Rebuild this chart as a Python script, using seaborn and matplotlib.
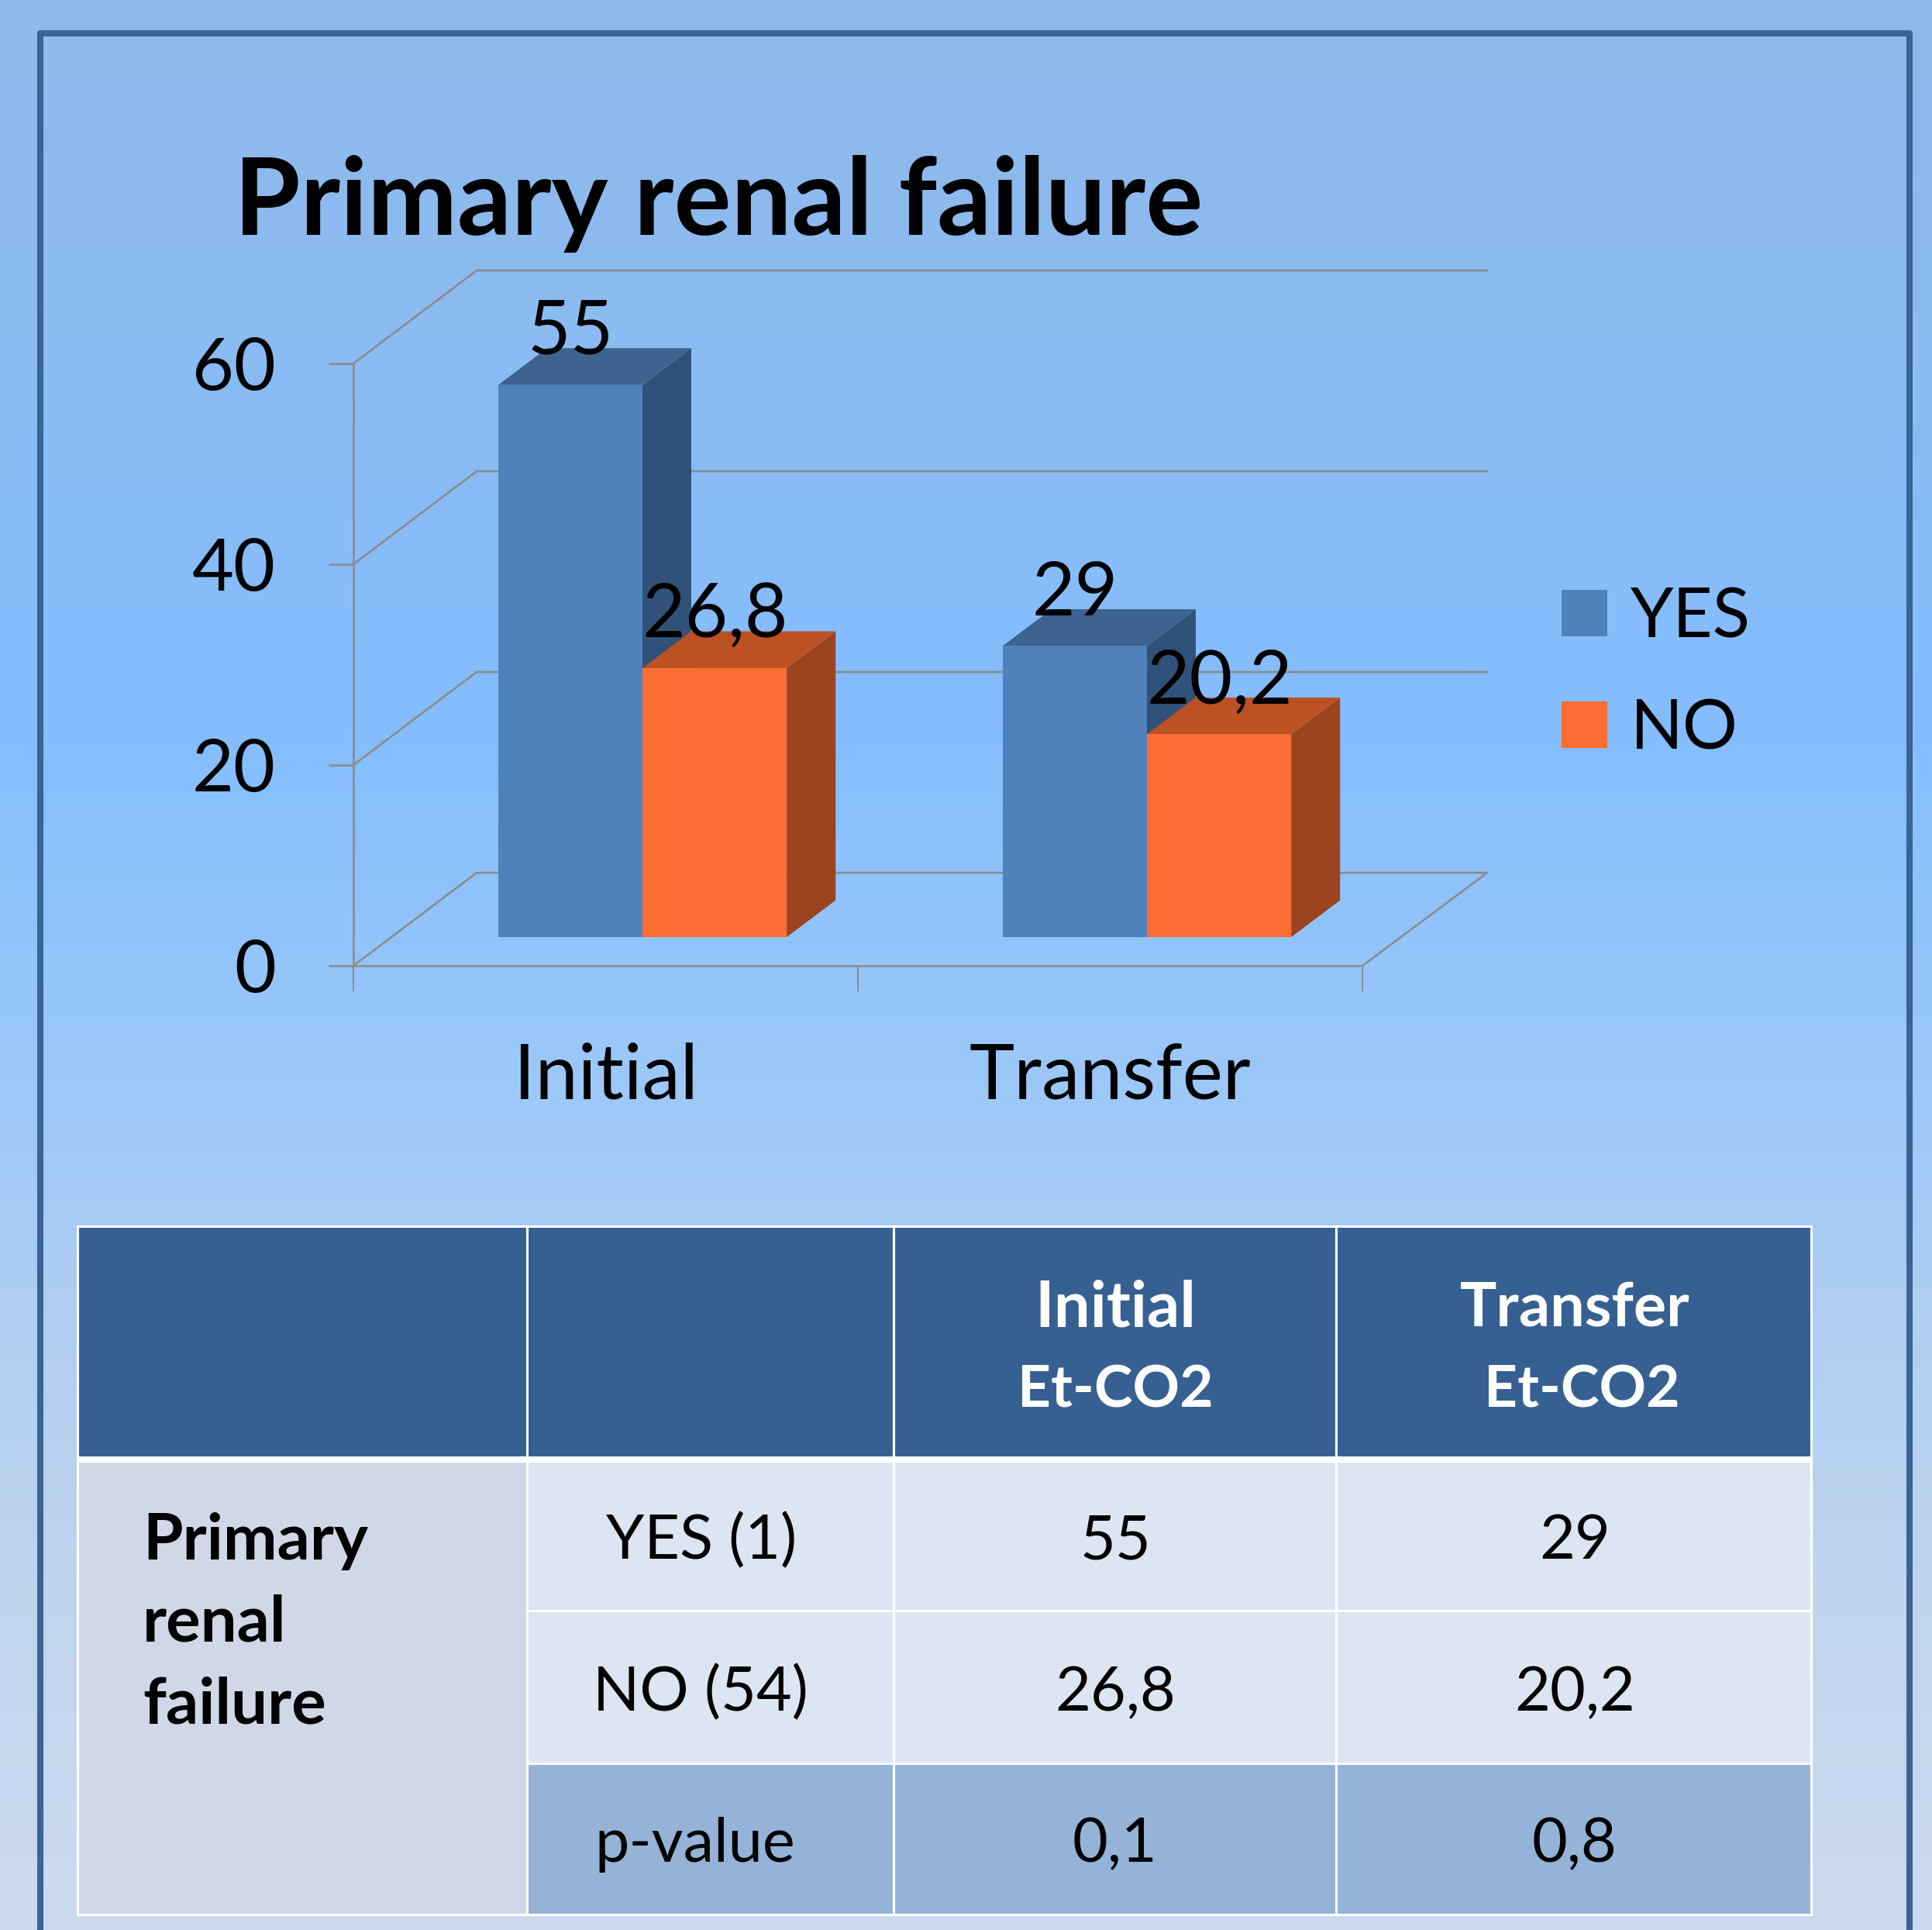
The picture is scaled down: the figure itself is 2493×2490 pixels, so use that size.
import matplotlib
matplotlib.use("Agg")
import matplotlib.pyplot as plt
import numpy as np
import pandas as pd
import seaborn as sns
from matplotlib.colors import LinearSegmentedColormap
from matplotlib.patches import Polygon, Rectangle
from matplotlib.transforms import Affine2D

# ---------- data ----------
categories = ["Initial", "Transfer"]
series_names = ["YES", "NO"]
yes_values = [55, 29]
no_values = [26.8, 20.2]
yes_labels = ["55", "29"]
no_labels = ["26,8", "20,2"]
y_ticks = [0, 20, 40, 60]
title_text = "Primary renal failure"
row_title = ["Primary", "renal", "failure"]
head_initial = ["Initial", "Et-CO2"]
head_transfer = ["Transfer", "Et-CO2"]
row_names = ["YES (1)", "NO (54)", "p-value"]
col_initial = ["55", "26,8", "0,1"]
col_transfer = ["29", "20,2", "0,8"]

# ---------- style ----------
W, H = 2493, 2490
DPI = 100
sns.set_style("white")
plt.rcParams["font.family"] = ["Lato", "DejaVu Sans"]
BLUE, BLUE_SIDE, BLUE_TOP = "#4F81BD", "#30527A", "#3E638F"
ORANGE, ORANGE_SIDE, ORANGE_TOP = "#FB6E33", "#9C431F", "#BC5124"
GRID = "#8C8C8C"
FRAME = "#3A6495"

fig = plt.figure(figsize=(W / DPI, H / DPI), dpi=DPI)

# ---------- background layer, addressed in pixels ----------
bg = fig.add_axes([0, 0, 1, 1], zorder=0)
bg.set_xlim(0, W)
bg.set_ylim(H, 0)
bg.axis("off")
stops = [(0.0, "#90B9EA"), (0.16, "#8BBBF1"), (0.38, "#84BDFF"), (0.52, "#96C6FA"),
         (0.68, "#AFCEF2"), (0.84, "#C2D5EE"), (1.0, "#CCDAF0")]
cmap = LinearSegmentedColormap.from_list("page", stops)
bg.imshow(np.linspace(0, 1, 512)[:, None], cmap=cmap, aspect="auto", extent=(0, W, H, 0), zorder=0)
bg.plot([52, 52, 2464, 2464], [H, 43, 43, H], color=FRAME, lw=5.8, solid_joinstyle="round", zorder=1)

# table
xs = [100, 680, 1153, 1723.5, 2337]
ys = [1582, 1883, 2078, 2274.5, 2469.5]
HEAD, FIRST, CELL, PVAL = "#366092", "#D0D8E8", "#DCE6F2", "#95B3D7"


def cell(x0, x1, y0, y1, color):
    bg.add_patch(Rectangle((x0, y0), x1 - x0, y1 - y0, facecolor=color, edgecolor="white", lw=2.2, zorder=2))


for i in range(4):
    cell(xs[i], xs[i + 1], ys[0], ys[1], HEAD)
bg.plot([xs[0], xs[4]], [ys[1], ys[1]], color="white", lw=5.8, solid_capstyle="butt", zorder=3)
cell(xs[0], xs[1], ys[1], ys[4], FIRST)
for r in range(3):
    color = PVAL if r == 2 else CELL
    for c in range(1, 4):
        cell(xs[c], xs[c + 1], ys[r + 1], ys[r + 2], color)

TS = 57
TB = 60
for line, base in zip(row_title, [2012, 2117, 2223]):
    bg.text(184, base, line, fontsize=TB, fontweight="bold", color="black", ha="left", va="baseline", zorder=4)
for lines, cx, cx2, fs in [(head_initial, 1439, 1439, TB), (head_transfer, 2032, 2041, TB - 3)]:
    bg.text(cx, 1711, lines[0], fontsize=fs, fontweight="bold", color="white", ha="center", va="baseline", zorder=4)
    bg.text(cx2, 1816, lines[1], fontsize=TB - 6, fontweight="bold", color="white", ha="center", va="baseline", zorder=4)
row_bases = [2011, 2207, 2402]
for name, cx, base in zip(row_names, [905, 904, 897], row_bases):
    bg.text(cx, base, name, fontsize=TS, color="black", ha="center", va="baseline", zorder=4)
for r, base in enumerate(row_bases):
    bg.text(1439, base, col_initial[r], fontsize=TS, color="black", ha="center", va="baseline", zorder=4)
    bg.text(2032, base, col_transfer[r], fontsize=TS, color="black", ha="center", va="baseline", zorder=4)

# ---------- chart ----------
AX_L, AX_R, AX_T, AX_B = 456, 1758, 469, 1246
ax = fig.add_axes([AX_L / W, 1 - AX_B / H, (AX_R - AX_L) / W, (AX_B - AX_T) / H], zorder=1)
ax.patch.set_alpha(0)

df = pd.DataFrame({
    "category": categories * 2,
    "series": [series_names[0]] * 2 + [series_names[1]] * 2,
    "value": yes_values + no_values,
})
sns.barplot(data=df, x="category", y="value", hue="series", hue_order=series_names,
            palette=[BLUE, ORANGE], width=0.572, gap=0, dodge=True, saturation=1,
            ax=ax, legend=True, linewidth=0, zorder=3)
ax.set_xlim(-0.5, 1.5)
ax.set_ylim(0, 60)
ax.set_xlabel("")
ax.set_ylabel("")

x_per_px = 2 / (AX_R - AX_L)
y_per_px = 60 / (AX_B - AX_T)

# walls and floor in oblique projection
wall_dx, wall_dy = 159 * x_per_px, 120 * y_per_px
wall_end = 1.5 + 161 * x_per_px
for v in y_ticks:
    ax.plot([-0.5, -0.5 + wall_dx, wall_end], [v, v + wall_dy, v + wall_dy],
            color=GRID, lw=1.9, clip_on=False, zorder=1, solid_joinstyle="miter")
ax.plot([1.5, wall_end], [0, wall_dy], color=GRID, lw=1.9, clip_on=False, zorder=1)

# bars sit inside the floor: front plane shifted from the axis plane
shift = Affine2D().translate(47.5, 37)
front = ax.transData + shift
bar_dx, bar_dy = 63 * x_per_px, 47.5 * y_per_px
shades = [(BLUE_SIDE, BLUE_TOP), (ORANGE_SIDE, ORANGE_TOP)]
for s, container in enumerate(ax.containers):
    side_c, top_c = shades[s]
    for bar in container:
        x0, x1, h = bar.get_x(), bar.get_x() + bar.get_width(), bar.get_height()
        z = 3 + s * 2
        bar.set_transform(front)
        bar.set_clip_on(False)
        bar.set_zorder(z + 1)
        ax.add_patch(Polygon([(x1, 0), (x1 + bar_dx, bar_dy), (x1 + bar_dx, h + bar_dy), (x1, h)],
                             closed=True, facecolor=side_c, edgecolor="none",
                             transform=front, clip_on=False, zorder=z))
        ax.add_patch(Polygon([(x0, h), (x0 + bar_dx, h + bar_dy), (x1 + bar_dx, h + bar_dy), (x1, h)],
                             closed=True, facecolor=top_c, edgecolor="none",
                             transform=front, clip_on=False, zorder=z))

# value labels
for container, labels in zip(ax.containers, [yes_labels, no_labels]):
    for bar, lbl in zip(container, labels):
        ax.annotate(lbl, (bar.get_x() + bar.get_width() / 2, bar.get_height()),
                    xytext=(34.5, 55.4), textcoords="offset points", ha="center", va="baseline",
                    fontsize=69, color="black", annotation_clip=False, zorder=10)

# axes furniture
sns.despine(ax=ax, top=True, right=True)
for sp in ("left", "bottom"):
    ax.spines[sp].set_color(GRID)
    ax.spines[sp].set_linewidth(1.9)
    ax.spines[sp].set_zorder(2)
ax.set_yticks(y_ticks)
ax.set_xticks([0, 1], categories)
ax.set_xticks([-0.5, 0.5, 1.5], minor=True)
ax.tick_params(axis="y", left=True, length=23, width=1.9, color=GRID, pad=49, labelsize=67, labelcolor="black")
ax.tick_params(axis="x", which="major", bottom=False, length=0, pad=71, labelsize=71, labelcolor="black")
ax.tick_params(axis="x", which="minor", bottom=True, length=24, width=1.4, color=GRID)

# title
ax.set_title(title_text, x=(302 - AX_L) / (AX_R - AX_L), y=(AX_B - 303) / (AX_B - AX_T),
             ha="left", va="baseline", fontsize=99.5, fontweight="bold", color="black", pad=0)

# legend
handles, labels = ax.get_legend_handles_labels()
ax.legend(handles, labels, loc="center left", bbox_to_anchor=(2015 / W, 1 - 869.5 / H),
          bbox_transform=fig.transFigure, frameon=False, fontsize=64, borderpad=0, borderaxespad=0,
          handlelength=0.664, handleheight=0.664, handletextpad=0.34, labelspacing=0.70,
          labelcolor="black")

fig.savefig("out.png", dpi=DPI)
